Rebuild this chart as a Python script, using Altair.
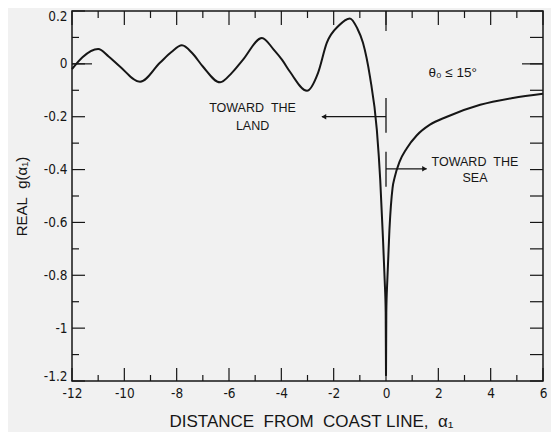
import altair as alt
import pandas as pd

# ---- data ----
x_land = [-12.0, -11.6, -11.0, -10.6, -10.17, -9.4, -8.64, -8.2, -7.8, -7.4, -7.0,
          -6.34, -5.9, -5.47, -4.74, -4.3, -3.97, -3.67, -3.02, -2.6, -2.26, -1.8,
          -1.38, -1.1, -0.88, -0.61, -0.35, -0.22, -0.13, -0.05, -0.012, 0.0]
y_land = [-0.02, 0.025, 0.056, 0.028, -0.01, -0.068, 0.004, 0.045, 0.07, 0.04, -0.01,
          -0.07, -0.035, 0.015, 0.098, 0.055, 0.015, -0.03, -0.102, -0.035, 0.08, 0.145,
          0.172, 0.135, 0.08, -0.05, -0.25, -0.44, -0.63, -0.82, -0.94, -1.18]

x_sea = [0.0, 0.012, 0.05, 0.13, 0.25, 0.33, 0.52, 0.79, 1.18, 1.68, 2.33, 3.6, 4.85, 6.0]
y_sea = [-1.18, -0.94, -0.82, -0.63, -0.47, -0.43, -0.37, -0.32, -0.27, -0.23, -0.20,
         -0.155, -0.129, -0.113]

x_major = [-12, -10, -8, -6, -4, -2, 0, 2, 4, 6]
x_minor = [-11, -9, -7, -5, -3, -1, 1, 3, 5]
y_major = [0.2, 0.0, -0.2, -0.4, -0.6, -0.8, -1.0, -1.2]
y_minor = [0.1, -0.1, -0.3, -0.5, -0.7, -0.9, -1.1]
y_all = [0.2, 0.1, 0.0, -0.1, -0.2, -0.3, -0.4, -0.5, -0.6, -0.7, -0.8, -0.9, -1.0, -1.1, -1.2]

note_x = [-5.1, -5.1, 3.4, 3.4]
note_y = [-0.166, -0.235, -0.37, -0.433]
note_text = ["TOWARD\u00a0\u00a0THE", "LAND", "TOWARD\u00a0\u00a0THE", "SEA"]

theta_x = [2.55]
theta_y = [-0.036]
theta_text = ["θ₀ ≤ 15°"]

bar_x = [0.0, 0.0]
bar_y0 = [-0.129, -0.333]
bar_y1 = [-0.261, -0.465]

arrow_x0 = [0.0, 0.0]
arrow_x1 = [-2.45, 1.55]
arrow_y = [-0.20, -0.397]

# ---- layout / style ----
W, H = 471, 370
INK = "#161616"
LABEL_FONT = "Liberation Sans Narrow, DejaVu Sans Condensed, Liberation Sans, sans-serif"
TITLE_FONT = "Liberation Sans, DejaVu Sans, sans-serif"

xs = alt.Scale(domain=[-12, 6], nice=False, zero=False)
ys = alt.Scale(domain=[-1.2, 0.2], nice=False, zero=False)

x_axis = alt.Axis(values=x_major, ticks=False, domain=False, grid=False,
                  labelFont=LABEL_FONT, labelFontSize=13.5, labelColor=INK, labelPadding=5,
                  labelFlush=False,
                  format="d", labelExpr="replace(datum.label, '\u2212', '-')",
                  title="DISTANCE\u00a0\u00a0FROM\u00a0\u00a0COAST LINE,\u00a0\u00a0α₁",
                  titleFont=TITLE_FONT, titleFontSize=17, titleFontWeight="normal",
                  titleColor=INK, titleX=239, titleY=40, titleBaseline="middle",
                  titleAlign="center")
y_axis = alt.Axis(values=y_major, ticks=False, domain=False, grid=False,
                  labelFont=LABEL_FONT, labelFontSize=13.5, labelColor=INK, labelPadding=5,
                  labelFlush=True, labelFlushOffset=2,
                  format=".1~f", labelExpr="replace(datum.label, '\u2212', '-')",
                  title="REAL\u00a0\u00a0g(α₁)",
                  titleFont=TITLE_FONT, titleFontSize=15, titleFontWeight="normal",
                  titleColor=INK, titleX=-51, titleY=185, titleBaseline="middle",
                  titleAlign="center", titleAngle=-90)


def X(f):
    return alt.X(f, type="quantitative", scale=xs, axis=x_axis)


def Y(f):
    return alt.Y(f, type="quantitative", scale=ys, axis=y_axis)


curve_df = pd.concat([
    pd.DataFrame({"x": x_land, "y": y_land, "branch": "land"}),
    pd.DataFrame({"x": x_sea, "y": y_sea, "branch": "sea"}),
])

curve = alt.Chart(curve_df).mark_line(color=INK, strokeWidth=2, interpolate="monotone").encode(
    x=X("x"), y=Y("y"), detail="branch:N"
)


def xtick(vals, length, side):
    c = alt.Chart(pd.DataFrame({"t": vals})).mark_rule(color=INK, strokeWidth=1.2)
    if side == "bottom":
        return c.encode(x=X("t"), y=alt.value(H), y2=alt.value(H - length))
    return c.encode(x=X("t"), y=alt.value(0), y2=alt.value(length))


def ytick(vals, length, side):
    c = alt.Chart(pd.DataFrame({"t": vals})).mark_rule(color=INK, strokeWidth=1.2)
    if side == "left":
        return c.encode(y=Y("t"), x=alt.value(0), x2=alt.value(length))
    return c.encode(y=Y("t"), x=alt.value(W), x2=alt.value(W - length))


ticks = [
    xtick(x_major, 13, "bottom"), xtick(x_minor, 6, "bottom"),
    xtick(x_major, 14, "top"), xtick(x_minor, 7, "top"), xtick([0], 20, "top"),
    ytick(y_major, 13, "left"), ytick(y_minor, 7, "left"), ytick([0.0], 20, "left"),
    ytick(y_all, 13, "right"), ytick([0.0], 21, "right"),
]

bars = alt.Chart(pd.DataFrame({"x": bar_x, "y0": bar_y0, "y1": bar_y1})).mark_rule(
    color=INK, strokeWidth=1.3).encode(x=X("x"), y=Y("y0"), y2="y1")

arrows = alt.Chart(pd.DataFrame({"x0": arrow_x0, "x1": arrow_x1, "y": arrow_y})).mark_rule(
    color=INK, strokeWidth=1.2).encode(x=X("x0"), x2="x1", y=Y("y"))

head_left = alt.Chart(pd.DataFrame({"x": arrow_x1[:1], "y": arrow_y[:1]})).mark_point(
    shape="triangle-left", filled=True, color=INK, size=30, opacity=1, xOffset=2
).encode(x=X("x"), y=Y("y"))
head_right = alt.Chart(pd.DataFrame({"x": arrow_x1[1:], "y": arrow_y[1:]})).mark_point(
    shape="triangle-right", filled=True, color=INK, size=30, opacity=1, xOffset=-2
).encode(x=X("x"), y=Y("y"))

notes = alt.Chart(pd.DataFrame({"x": note_x, "y": note_y, "t": note_text})).mark_text(
    font=TITLE_FONT, fontSize=12.5, color=INK, align="center", baseline="middle"
).encode(x=X("x"), y=Y("y"), text="t:N")

theta = alt.Chart(pd.DataFrame({"x": theta_x, "y": theta_y, "t": theta_text})).mark_text(
    font=TITLE_FONT, fontSize=13.5, color=INK, align="center", baseline="middle"
).encode(x=X("x"), y=Y("y"), text="t:N")

chart = alt.layer(curve, *ticks, bars, arrows, head_left, head_right, notes, theta).properties(
    width=W, height=H,
    autosize=alt.AutoSizeParams(type="none"),
    padding={"left": 64, "top": 3, "right": 8, "bottom": 51},
    background="#f1f1f1",
).configure_view(stroke=INK, strokeWidth=1.5)

chart.save("out.html", embed_options={"renderer": "svg", "actions": False})
